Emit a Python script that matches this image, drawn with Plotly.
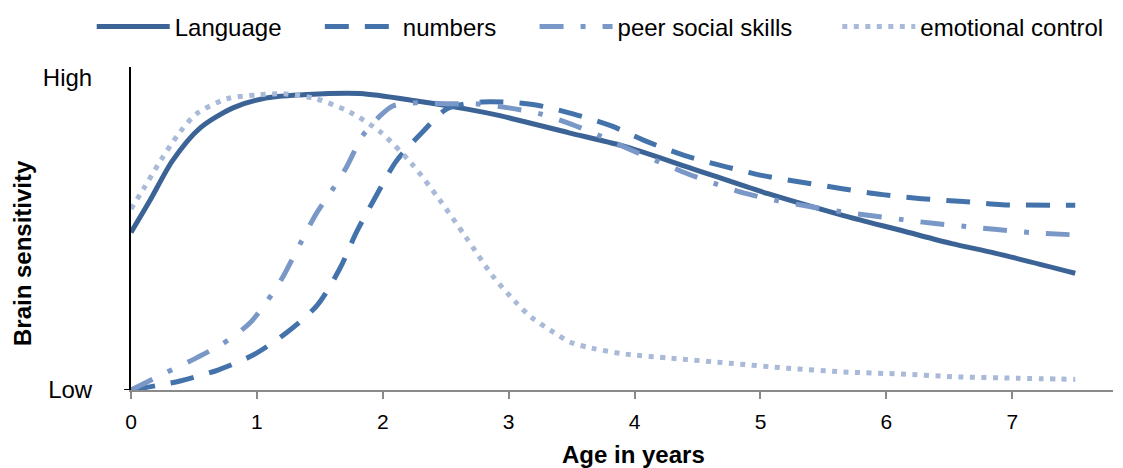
import plotly.graph_objects as go

# ---- data ----
lang_x = [0, 0.15, 0.33, 0.55, 0.81, 1.08, 1.4, 1.82, 2.27, 2.67, 2.93, 3.48, 3.9, 4.44, 5.06, 5.66, 6.12, 6.52, 6.87, 7.5]
lang_y = [50.5, 60.7, 73.5, 84, 90.4, 93.6, 94.7, 95, 92.6, 90, 87.9, 82.4, 78.3, 71.2, 62.9, 55.9, 51.1, 46.9, 43.8, 37.4]

num_x = [0, 0.39, 0.69, 0.97, 1.24, 1.48, 1.66, 1.79, 1.94, 2.11, 2.31, 2.51, 2.79, 3.19, 3.51, 3.81, 4.08, 4.4, 4.72, 5.02, 5.34, 5.65, 5.97, 6.28, 6.61, 6.92, 7.5]
num_y = [0, 2.9, 6.4, 11.2, 18.5, 27.2, 39, 50.5, 61.7, 73.5, 82.4, 90.1, 92.3, 91.5, 88.5, 84.7, 79.9, 75.1, 71.6, 68.7, 66.5, 64.5, 62.6, 61.3, 60.4, 59.4, 59.2]

peer_x = [0, 0.28, 0.52, 0.73, 0.94, 1.09, 1.2, 1.34, 1.47, 1.6, 1.71, 1.84, 1.98, 2.08, 2.24, 2.51, 2.74, 3.0, 3.25, 3.49, 3.72, 3.95, 4.17, 4.42, 4.64, 4.89, 5.13, 5.39, 5.63, 5.87, 6.13, 6.37, 6.63, 6.88, 7.13, 7.5]
peer_y = [0, 5.6, 10.3, 14.9, 21.3, 29, 35.8, 46.6, 56.4, 64.2, 71.3, 81.5, 87.9, 91, 92, 91.7, 91.7, 90.4, 88.5, 85.3, 81.5, 77.3, 73.5, 69.3, 66.1, 62.9, 60.7, 58.8, 57.2, 55.9, 54.6, 53.4, 52.4, 51.4, 50.5, 49.7]

emo_x = [0, 0.1, 0.24, 0.39, 0.52, 0.76, 1.02, 1.21, 1.47, 1.74, 1.98, 2.23, 2.45, 2.66, 2.87, 3.05, 3.18, 3.33, 3.49, 3.66, 3.93, 4.29, 4.75, 5.21, 5.66, 6.12, 6.57, 7.03, 7.5]
emo_y = [58, 64.5, 73.8, 82.7, 88.5, 93.3, 94.6, 94.9, 93.3, 89, 82.7, 72.5, 61, 49, 36.7, 28.4, 23.3, 19.2, 15.3, 13.4, 11.5, 10.2, 8.6, 7.0, 5.8, 5.1, 4.2, 3.8, 3.4]

series_names = ["Language", "numbers", "peer social skills", "emotional control"]
x_ticks = [0, 1, 2, 3, 4, 5, 6, 7]
y_tickvals = [0, 100]
y_ticktext = ["Low", "High"]

FONT = "Liberation Sans, Arial, sans-serif"
NB = "\u00a0"  # visual spacing between legend entries

fig = go.Figure()
fig.add_trace(go.Scatter(x=lang_x, y=lang_y, name=series_names[0] + NB * 5, mode="lines",
                         line=dict(color="#3B6396", width=5, shape="spline", smoothing=0.8)))
fig.add_trace(go.Scatter(x=num_x, y=num_y, name=series_names[1] + NB * 5, mode="lines",
                         line=dict(color="#4473AC", width=5, shape="spline", smoothing=0.8, dash="24px,16px")))
fig.add_trace(go.Scatter(x=peer_x, y=peer_y, name=series_names[2] + NB * 6, mode="lines",
                         line=dict(color="#7A98C7", width=5, shape="spline", smoothing=0.8, dash="24px,17px,5px,17px")))
fig.add_trace(go.Scatter(x=emo_x, y=emo_y, name=series_names[3], mode="lines",
                         line=dict(color="#A8BAD7", width=5, shape="spline", smoothing=0.8, dash="5px,6.5px")))

# the page body adds an 8px margin, so the figure is sized/offset to compensate
fig.update_layout(
    width=1115, height=460,
    margin=dict(l=123, r=10, t=59, b=78, autoexpand=False),
    paper_bgcolor="white", plot_bgcolor="white",
    font=dict(family=FONT, color="black"),
    showlegend=True,
    legend=dict(orientation="h", x=-0.04, xanchor="left", y=1.124, yanchor="middle",
                font=dict(size=24, family=FONT), itemwidth=73, bgcolor="rgba(0,0,0,0)"),
    xaxis=dict(range=[0, 7.8], tickvals=x_ticks, showgrid=False, zeroline=False,
               showline=True, linecolor="#8A8A8A", linewidth=2, automargin=False,
               ticks="outside", ticklen=7, tickwidth=2, tickcolor="#8A8A8A",
               tickfont=dict(size=21, family=FONT), ticklabelstandoff=5),
    yaxis=dict(range=[0, 103.5], tickvals=y_tickvals, ticktext=y_ticktext, showgrid=False,
               zeroline=False, showline=True, linecolor="black", linewidth=2, ticks="",
               automargin=False,
               tickfont=dict(size=24, family=FONT), ticklabelstandoff=32),
    annotations=[
        dict(text="<b>Age in years</b>", xref="paper", yref="paper", x=0.512, y=-0.2,
             xanchor="center", yanchor="middle", showarrow=False, font=dict(size=24, family=FONT)),
        dict(text="<b>Brain sensitivity</b>", xref="paper", yref="paper", x=-0.111, y=0.424,
             xanchor="center", yanchor="middle", textangle=-90, showarrow=False,
             font=dict(size=24, family=FONT)),
    ],
    shapes=[
        dict(type="line", xref="paper", yref="y", x0=-0.007, x1=0, y0=0, y1=0,
             line=dict(color="black", width=2)),
    ],
)

fig.write_html("out.html")
